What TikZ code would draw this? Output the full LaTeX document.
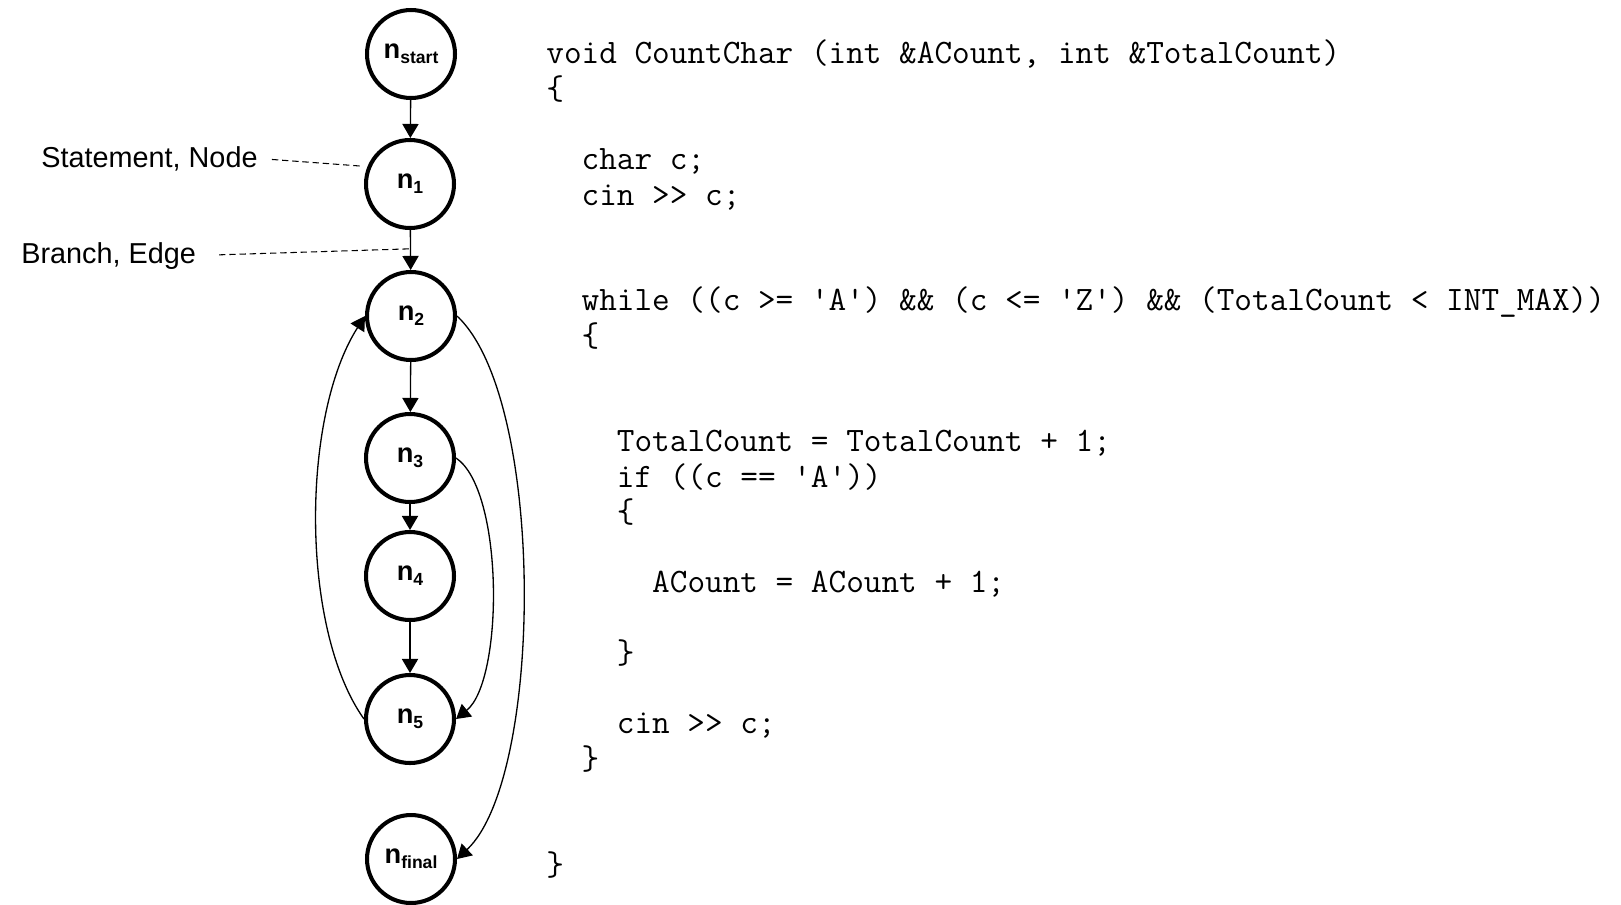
\documentclass[tikz,border=0pt]{standalone}
\usepackage{fontspec}
\setsansfont{Liberation Sans}
\usetikzlibrary{arrows.meta}

\newcommand{\nsub}[1]{n\raisebox{-2.8pt}{\fontsize{10}{10}\selectfont #1}}
\newcommand{\idt}{\phantom{xx}}

\begin{document}
\begin{tikzpicture}[x=0.02cm,y=-0.02cm,>={Triangle[length=8pt,width=9.2pt]},
  stmt/.style={circle,draw,line width=2.3pt,minimum size=1.76cm,inner sep=0pt,
    font=\sffamily\bfseries\fontsize{15.5}{18}\selectfont},
  flow/.style={->,line width=0.75pt},
  leader/.style={line width=0.6pt,dash pattern=on 3.6pt off 2.2pt},
  lbl/.style={anchor=base west,inner sep=0pt,font=\sffamily\fontsize{16.4}{19}\selectfont},
  code/.style={anchor=base west,align=left,inner sep=0pt,
    font=\ttfamily\fontsize{19.5}{20.07}\selectfont}]
\useasboundingbox (0,0) rectangle (1621,904);

% control flow graph
\node[stmt] (nstart) at (411,54) {\nsub{start}};
\node[stmt] (n1) at (410,184) {\nsub{1}};
\node[stmt] (n2) at (411,316) {\nsub{2}};
\node[stmt] (n3) at (410,458) {\nsub{3}};
\node[stmt] (n4) at (410,576) {\nsub{4}};
\node[stmt] (n5) at (410,719) {\nsub{5}};
\node[stmt] (nfinal) at (411,859) {\nsub{final}};

\draw[flow] (nstart) -- (n1);
\draw[flow] (n1) -- coordinate[pos=0.47] (edgept) (n2);
\draw[flow] (n2) -- (n3);
\draw[flow] (n3) -- (n4);
\draw[flow] (n4) -- (n5);
\draw[flow] (n3.east) .. controls +(48,32) and +(48,-39) .. (n5.east);
\draw[flow] (n2.east) .. controls +(89,83) and +(87,-82) .. (nfinal.east);
\draw[flow] (n5.west) .. controls +(-64,-90) and +(-64,100) .. (n2.west);

% annotations
\node[lbl] (stmtlbl) at (41,167) {Statement, Node};
\node[lbl] (edgelbl) at (21,263) {Branch, Edge};
\coordinate (stmtpt) at (360,166);
\draw[leader,shorten <=8pt] (stmtlbl.east) -- (stmtpt);
\draw[leader,shorten <=13pt] (edgelbl.east) -- (edgept);

% source code (base = last line)
\node[code] (src) at (546,875) {void CountChar (int \&ACount, int \&TotalCount)\\
\{\\[\baselineskip]
\idt char c;\\
\idt cin >> c;\\[2\baselineskip]
\idt while ((c >= 'A') \&\& (c <= 'Z') \&\& (TotalCount < INT\_MAX))\\
\idt\{\\[2\baselineskip]
\idt\idt TotalCount = TotalCount + 1;\\
\idt\idt if ((c == 'A'))\\
\idt\idt\{\\[\baselineskip]
\idt\idt\idt ACount = ACount + 1;\\[\baselineskip]
\idt\idt\}\\[\baselineskip]
\idt\idt cin >> c;\\
\idt\}\\[2\baselineskip]
\}};
\end{tikzpicture}
\end{document}
